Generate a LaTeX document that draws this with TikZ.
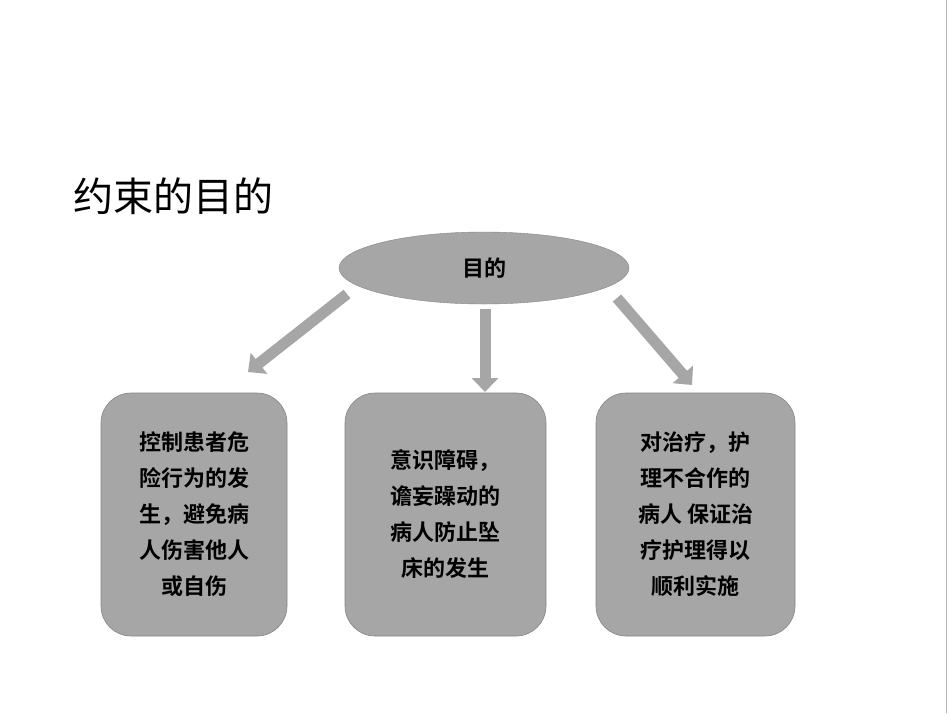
\documentclass[tikz,border=0pt]{standalone}
\usepackage{fontspec}
\setmainfont{Noto Sans CJK SC}
\newfontfamily\cjkb{Noto Sans CJK SC Bold}
\usetikzlibrary{arrows.meta,shapes.geometric}
\definecolor{fillg}{HTML}{A6A6A6}
\tikzset{
  box/.style={draw=fillg!80!black,line width=0.6pt,fill=fillg,rounded corners=30pt,minimum width=#1,minimum height=243pt,align=center,font=\cjkb\fontsize{22}{36}\selectfont},
  bigarrow/.style={draw=fillg,line width=11pt,-{Triangle[length=14pt,width=26pt]}},
}
\begin{document}
\begin{tikzpicture}[x=1pt,y=-1pt]
\useasboundingbox (0,0) rectangle (950,713);
\fill[white] (0,0) rectangle (950,713);
\draw[gray!60,line width=1pt] (946,0) -- (946,713);
\node[anchor=west,font=\fontsize{40}{44}\selectfont] (title) at (70,196) {约束的目的};
\node[ellipse,draw=fillg!80!black,fill=fillg,minimum width=290pt,minimum height=72pt,font=\cjkb\fontsize{22}{26}\selectfont] (top) at (484,268) {目的};
\node[box=186pt] (b1) at (194,514.5) {控制患者危\\险行为的发\\生，避免病\\人伤害他人\\或自伤};
\node[box=201pt] (b2) at (445.5,514.5) {意识障碍，\\谵妄躁动的\\病人防止坠\\床的发生};
\node[box=199pt] (b3) at (695.5,514.5) {对治疗，护\\理不合作的\\病人 保证治\\疗护理得以\\顺利实施};
\coordinate (s1) at (347,294); \coordinate (e1) at (248,372);
\coordinate (s2) at (485,309); \coordinate (e2) at (485,392);
\coordinate (s3) at (617,298); \coordinate (e3) at (692,385);
\draw[bigarrow] (s1) -- (e1);
\draw[bigarrow] (s2) -- (e2);
\draw[bigarrow] (s3) -- (e3);
\end{tikzpicture}
\end{document}
